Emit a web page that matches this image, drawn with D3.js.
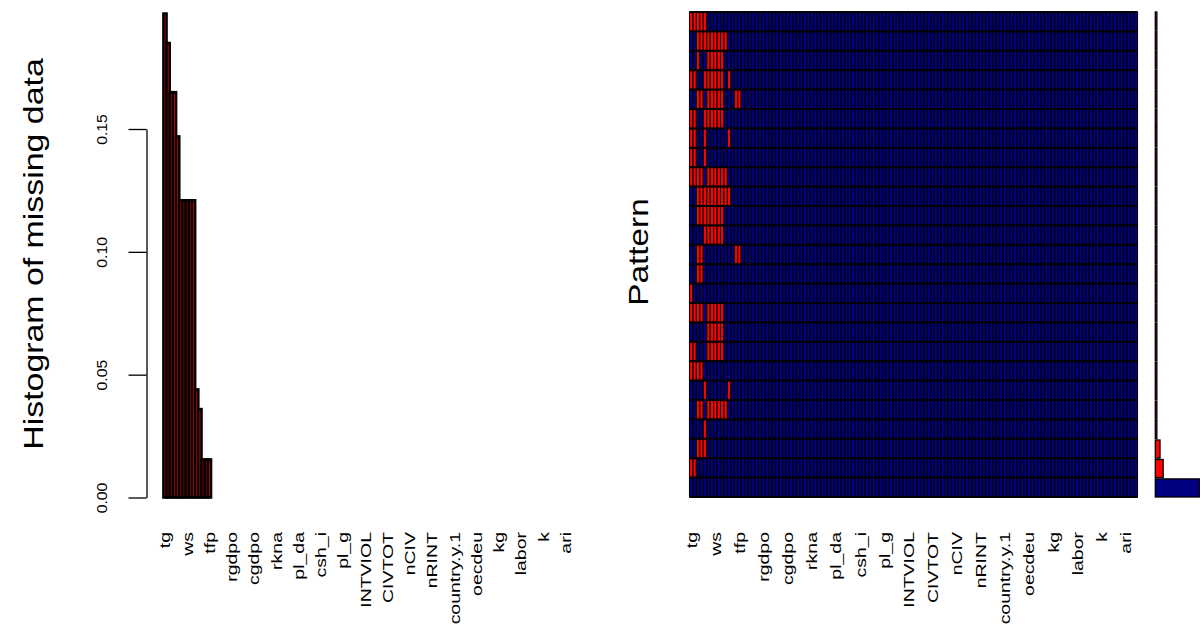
<!DOCTYPE html>
<html>
<head>
<meta charset="utf-8">
<script src="https://cdn.jsdelivr.net/npm/d3@7"></script>
<style>
  body { margin: 0; background: #fff; }
  text { font-family: "Liberation Sans", Arial, sans-serif; fill: #000; }
</style>
</head>
<body>
<div id="chart"></div>
<script>
// data
const nVars = 130;
const varLabels = ["tg","ws","tfp","rgdpo","cgdpo","rkna","pl_da","csh_i","pl_g","INTVIOL",
	"CIVTOT","nCIV","nRINT","country.y.1","oecdeu","kg","labor","k","ari"];
const labelStep = 7;
// proportion missing per variable (sorted), the rest are complete
const missingProp = [0.197,0.185,0.165,0.165,0.147,0.121,0.121,0.121,0.121,0.121,0.044,0.036,0.0155,0.0155,0.0155];
const yTicks = [0, 0.05, 0.10, 0.15];
// missing columns in each pattern row (top to bottom)
const patternMissing = [
	[0,1,2,3,4],
	[2,3,4,5,6,7,8,9,10],
	[2,5,6,7,8,9],
	[0,1,4,5,6,7,8,9,11],
	[2,3,5,6,7,8,9,13,14],
	[0,1,4,5,6,7,8,9],
	[0,1,4,11],
	[0,1,4],
	[0,1,2,3,5,6,7,8,9,10],
	[2,3,4,5,6,7,8,9,10,11],
	[2,3,4,5,6,7,8,9],
	[4,5,6,7,8,9],
	[2,3,13,14],
	[2,3],
	[0],
	[0,1,2,3,5,6,7,8,9],
	[5,6,7,8,9],
	[0,1,5,6,7,8,9],
	[0,1,2,3],
	[4,11],
	[2,3,5,6,7,8,9,10],
	[4],
	[2,3,4],
	[0,1],
	[]
];
const patternCount = [1,1,1,1,1,1,1,1,1,1,1,1,1,1,1,1,1,1,1,1,1,1,3,5,28];

// set up
const w = 1203;
const h = 630;
const red = "#ff0000";
const blue = "#000080";

const svg = d3.select("#chart").append("svg")
	.attr("width", w)
	.attr("height", h);

svg.append("rect").attr("width", w).attr("height", h).attr("fill", "#fff");

const cols = d3.range(nVars);

// rotated, stretched text helper
function vtext(g, x, y, txt, size, s, anchor){
	return g.append("text")
		.attr("transform", `translate(${x},${y}) scale(1,${s}) rotate(-90)`)
		.attr("text-anchor", anchor)
		.style("font-size", size + "px")
		.text(txt);
}

// ---------- histogram ----------
const hx = d3.scaleBand().domain(cols).range([163.4, 576.5]).padding(0);
const hy = d3.scaleLinear().domain([0, 0.15]).range([497.5, 129]);

const hist = svg.append("g");
hist.selectAll(".bar")
	.data(cols.map(i => missingProp[i] || 0))
	.enter()
	.append("rect")
	.attr("class", "bar")
	.attr("x", (d, i) => hx(i))
	.attr("y", d => hy(d))
	.attr("width", hx.bandwidth())
	.attr("height", d => hy(0) - hy(d))
	.attr("fill", red)
	.attr("stroke", "#000")
	.attr("stroke-width", 2.5);

const yAxis = svg.append("g")
	.attr("transform", "translate(146.5,0)")
	.call(d3.axisLeft(hy).tickValues(yTicks).tickSize(18).tickSizeOuter(0).tickFormat(d3.format(".2f")));
yAxis.select(".domain").attr("stroke", "#000").attr("stroke-width", 1.3);
yAxis.selectAll(".tick line").attr("stroke", "#000").attr("stroke-width", 1.3);
yAxis.selectAll(".tick text")
	.attr("x", null).attr("dy", null)
	.attr("transform", "translate(-39.5,0) scale(1,1.05) rotate(-90)")
	.attr("text-anchor", "middle")
	.style("font-size", "15px")
	.attr("fill", "#000");

vtext(svg, 43, 254, "Histogram of missing data", 28, 1.21, "middle");

// x labels
function xLabels(scale){
	const ax = svg.append("g")
		.attr("transform", "translate(0,532)")
		.call(d3.axisBottom(scale)
			.tickValues(varLabels.map((d, i) => i * labelStep))
			.tickFormat(i => varLabels[i / labelStep])
			.tickSize(0));
	ax.select(".domain").remove();
	ax.selectAll(".tick text")
		.attr("y", null).attr("dy", null)
		.attr("transform", "translate(5.5,0) scale(1,1.3) rotate(-90)")
		.attr("text-anchor", "end")
		.style("font-size", "15px")
		.attr("fill", "#000");
}
xLabels(hx);

// ---------- pattern ----------
const px = d3.scaleBand().domain(cols).range([689.5, 1137.5]).padding(0);
const py = d3.scaleBand().domain(d3.range(patternMissing.length)).range([12, 497]).padding(0);

const cells = [];
patternMissing.forEach((miss, r) => {
	const s = new Set(miss);
	cols.forEach(c => cells.push({r, c, m: s.has(c)}));
});

svg.append("g").selectAll("rect")
	.data(cells)
	.enter()
	.append("rect")
	.attr("x", d => px(d.c))
	.attr("y", d => py(d.r))
	.attr("width", px.bandwidth())
	.attr("height", py.bandwidth())
	.attr("fill", d => d.m ? red : blue)
	.attr("stroke", "#000")
	.attr("stroke-width", 1.1);

// row separators, drawn a bit heavier
svg.append("g").selectAll("line")
	.data(d3.range(patternMissing.length + 1))
	.enter()
	.append("line")
	.attr("x1", px.range()[0])
	.attr("x2", px.range()[1])
	.attr("y1", d => d < patternMissing.length ? py(d) : py.range()[1])
	.attr("y2", d => d < patternMissing.length ? py(d) : py.range()[1])
	.attr("stroke", "#000")
	.attr("stroke-width", 2);

xLabels(px);
vtext(svg, 648, 252, "Pattern", 28, 1.19, "middle");

// ---------- pattern frequencies ----------
const fx = d3.scaleLinear().domain([0, d3.max(patternCount)]).range([1155.3, 1199.3]);
const fy = d3.scaleBand().domain(d3.range(patternCount.length)).range([12, 497]).paddingInner(0.07);

svg.append("g").selectAll("rect")
	.data(patternCount)
	.enter()
	.append("rect")
	.attr("x", fx(0))
	.attr("y", (d, i) => fy(i))
	.attr("width", d => fx(d) - fx(0))
	.attr("height", fy.bandwidth())
	.attr("fill", (d, i) => patternMissing[i].length ? red : blue)
	.attr("stroke", "#000")
	.attr("stroke-width", 1.3);
</script>
</body>
</html>
